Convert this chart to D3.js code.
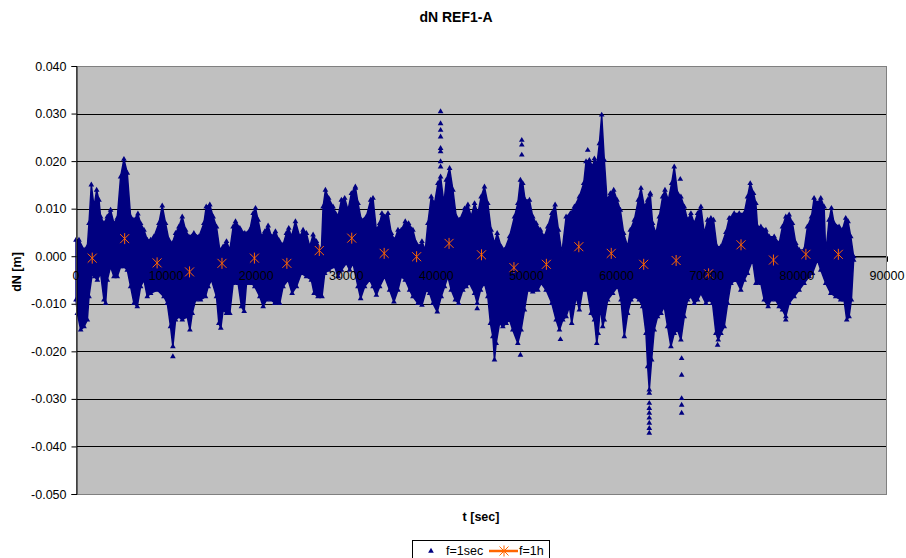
<!DOCTYPE html>
<html>
<head>
<meta charset="utf-8">
<script src="https://cdn.jsdelivr.net/npm/d3@7"></script>
<style>
  body { margin: 0; background: #fff; }
  svg { display: block; font-family: "Liberation Sans", Arial, sans-serif; }
</style>
</head>
<body>
<svg id="chart" width="906" height="558"></svg>
<script>
const WIDTH = 906;
const HEIGHT = 558;

// f=1h series (one value per hour, mid-hour)
const hourT = [1800, 5400, 9000, 12600, 16200, 19800, 23400, 27000, 30600, 34200, 37800, 41400,
  45000, 48600, 52200, 55800, 59400, 63000, 66600, 70200, 73800, 77400, 81000, 84600];
const hourDN = [-0.0004, 0.0037, -0.0014, -0.0033, -0.0015, -0.0004, -0.0015, 0.0012, 0.0038, 0.0006, -0.0001, 0.0027,
  0.0003, -0.0024, -0.0017, 0.0020, 0.0006, -0.0017, -0.0009, -0.0037, 0.0024, -0.0008, 0.0004, 0.0004];

// f=1sec cloud, read as its upper and lower edge [t, dN]
const upperEdge = [[0,0.0034],[330,0.0034],[890,0.0013],[1260,0.002],[1440,0.0069],[1700,0.015],[2000,0.0104],[2290,0.0139],
  [2550,0.0118],[2730,0.0083],[3100,0.0069],[3470,0.0083],[3840,0.0097],[4210,0.0069],[4580,0.008],[4950,0.0167],[5320,0.0204],
  [5690,0.0175],[6060,0.0083],[6430,0.0076],[6870,0.0089],[7170,0.0069],[7540,0.0055],[7910,0.0034],[8280,0.0034],[8650,0.0041],
  [9200,0.0069],[9570,0.0106],[9940,0.0069],[10310,0.0034],[10680,0.0027],[11050,0.0048],[11420,0.0062],[11790,0.0083],
  [12160,0.0055],[12530,0.0041],[13080,0.0048],[13640,0.0041],[14190,0.0069],[14450,0.0104],[14850,0.0108],[15220,0.0083],
  [15590,0.0062],[15960,0.0013],[16330,0.002],[16700,0.0031],[17070,0.0013],[17440,0.0062],[17700,0.0073],[18180,0.0059],
  [18730,0.0048],[19290,0.0055],[19660,0.009],[19920,0.0101],[20210,0.0076],[20580,0.0041],[20950,0.0052],[21320,0.0064],
  [21690,0.0041],[22130,0.0052],[22500,0.0034],[22980,0.0024],[23350,0.0048],[23610,0.0059],[23910,0.0041],[24350,0.0073],
  [24830,0.0041],[25200,0.0055],[25570,0.0048],[25940,0.002],[26310,0.0045],[26680,0.0031],[27230,0.0013],[27420,0.0104],
  [27680,0.0139],[28040,0.0122],[28520,0.0104],[28800,0.009],[29080,0.0083],[29450,0.0118],[29820,0.0122],[30190,0.0097],
  [30560,0.0132],[31000,0.0146],[31300,0.0111],[31660,0.0076],[32220,0.0083],[32700,0.0118],[32960,0.0122],[33330,0.0055],
  [33700,0.0069],[33950,0.009],[34250,0.0083],[34620,0.009],[34990,0.0048],[35360,0.0034],[35730,0.0055],[36100,0.0055],
  [36540,0.0073],[36910,0.0069],[37390,0.0055],[37760,0.0027],[38130,0.002],[38390,0.0031],[38760,0.0013],[39050,0.0069],
  [39420,0.0125],[39790,0.0111],[40160,0.0153],[40460,0.0167],[40830,0.0111],[41090,0.016],[41460,0.0185],[41830,0.0139],
  [42200,0.0083],[42570,0.0076],[43120,0.01],[43490,0.0108],[43860,0.0083],[44230,0.0111],[44600,0.009],[44960,0.0125],
  [45330,0.0146],[45700,0.0111],[46070,0.0055],[46440,0.0027],[46740,0.0048],[47180,0.002],[47550,0.0013],[48110,0.0041],
  [48660,0.0083],[49030,0.0111],[49320,0.016],[49580,0.0153],[49840,0.0118],[50320,0.0118],[50690,0.0083],[51060,0.0069],
  [51540,0.0055],[51980,0.0041],[52350,0.0062],[52800,0.009],[53170,0.0108],[53540,0.0055],[53910,0.0006],[54390,0.0083],
  [54870,0.009],[55310,0.0104],[55860,0.0125],[56340,0.0153],[56600,0.0199],[56970,0.0202],[57340,0.0188],[57530,0.0205],
  [57820,0.0195],[58080,0.0237],[58340,0.0297],[58630,0.0202],[58930,0.0118],[59300,0.0132],[59670,0.0139],[60040,0.0118],
  [60410,0.0097],[60780,0.0048],[61220,0.002],[61520,0.0055],[61960,0.0076],[62400,0.0118],[62700,0.0143],[63070,0.0104],
  [63440,0.0118],[63730,0.0129],[63990,0.0069],[64360,0.0048],[64730,0.0083],[65100,0.0125],[65360,0.0139],[65730,0.0118],
  [66100,0.0153],[66390,0.0188],[66760,0.0132],[67130,0.0125],[67500,0.0104],[67870,0.0076],[68240,0.009],[68610,0.0069],
  [68980,0.009],[69350,0.0104],[69720,0.0048],[70090,0.0076],[70460,0.008],[70750,0.0076],[71120,0.002],[71570,0.002],
  [72120,0.005],[72490,0.008],[73040,0.009],[73600,0.009],[74150,0.009],[74520,0.0125],[74820,0.0153],[75190,0.0132],
  [75450,0.0111],[75630,0.0062],[76000,0.0062],[76560,0.0055],[76930,0.0041],[77480,0.0041],[78030,0.0027],[78400,0.0062],
  [78770,0.0083],[79140,0.0087],[79510,0.0069],[79880,0.0027],[80250,0.0013],[80800,0.0013],[81170,0.0062],[81620,0.0083],
  [81910,0.0122],[82280,0.0111],[82650,0.0122],[83020,0.0104],[83200,0.0006],[83570,0.0076],[83830,0.0101],[84130,0.0069],
  [84680,0.0062],[85050,0.0055],[85420,0.008],[85680,0.0073],[85980,0.0041],[86300,-0.0001]];

const lowerEdge = [[0,-0.0092],[150,-0.012],[520,-0.0155],[890,-0.0148],[1260,-0.0134],[1440,-0.0085],[1810,-0.0036],
  [2070,-0.0043],[2370,-0.005],[2730,-0.0036],[3100,-0.0092],[3290,-0.0099],[3470,-0.005],[3840,-0.0022],[4210,-0.0043],
  [4580,-0.0043],[4950,-0.0022],[5320,-0.0022],[5690,-0.0029],[6060,-0.0064],[6430,-0.0099],[6800,-0.0106],[7170,-0.0064],
  [7540,-0.005],[7910,-0.0085],[8280,-0.0078],[9020,-0.0071],[9760,-0.0085],[10130,-0.0099],[10490,-0.0148],[10750,-0.019],
  [11050,-0.0134],[11420,-0.0127],[11790,-0.0134],[12340,-0.0127],[12640,-0.0155],[12900,-0.012],[13270,-0.0092],
  [13820,-0.0092],[14370,-0.0085],[14670,-0.0064],[15040,-0.005],[15590,-0.0085],[15850,-0.0141],[16070,-0.0151],
  [16330,-0.0113],[16700,-0.012],[17070,-0.012],[17440,-0.0057],[17990,-0.0057],[18360,-0.0106],[18660,-0.0116],
  [18920,-0.0057],[19470,-0.0057],[19840,-0.0064],[20400,-0.0085],[20770,-0.0106],[21130,-0.0092],[21690,-0.0092],
  [22060,-0.0099],[22610,-0.0099],[22980,-0.0064],[23540,-0.005],[23980,-0.0078],[24460,-0.0064],[25010,-0.0036],
  [25570,-0.0043],[26120,-0.005],[26420,-0.0078],[26860,-0.0085],[27300,-0.0085],[27600,-0.0036],[28040,-0.0029],
  [28710,-0.0022],[29080,-0.0043],[29450,-0.0029],[30000,-0.0015],[30370,-0.0029],[30740,-0.0015],[31290,-0.0064],
  [31590,-0.0089],[32030,-0.0064],[32590,-0.005],[32960,-0.0064],[33330,-0.0082],[33700,-0.0064],[34250,-0.0043],
  [34800,-0.0071],[35280,-0.0096],[35730,-0.0071],[36100,-0.0043],[36540,-0.005],[37020,-0.0071],[37390,-0.0085],
  [37940,-0.0099],[38390,-0.0103],[38870,-0.0071],[39240,-0.0078],[39610,-0.0099],[40090,-0.0117],[40530,-0.0085],
  [40900,-0.0064],[41270,-0.0043],[41640,-0.0071],[42090,-0.0092],[42450,-0.0099],[42930,-0.0071],[43300,-0.0064],
  [43670,-0.0057],[44230,-0.0078],[44520,-0.0099],[44890,-0.0071],[45330,-0.0057],[45700,-0.0085],[45990,-0.0141],
  [46260,-0.0169],[46440,-0.0218],[46630,-0.0183],[47000,-0.0141],[47370,-0.0148],[47740,-0.0141],[48110,-0.0134],
  [48470,-0.0155],[49030,-0.0183],[49400,-0.0155],[49770,-0.0113],[50140,-0.0071],[50690,-0.0075],[51250,-0.0071],
  [51620,-0.0057],[52170,-0.0071],[52800,-0.0099],[53280,-0.0134],[53650,-0.0155],[54020,-0.0134],[54390,-0.0127],
  [54760,-0.0106],[55010,-0.0141],[55500,-0.0085],[55860,-0.0113],[56230,-0.0071],[56720,-0.0071],[57160,-0.012],
  [57530,-0.0134],[57790,-0.0183],[57950,-0.0162],[58190,-0.0106],[58450,-0.0148],[58630,-0.0134],[59000,-0.0092],
  [59560,-0.0078],[60110,-0.0064],[60480,-0.0092],[60850,-0.0169],[61220,-0.012],[61590,-0.0092],[61960,-0.0085],
  [62510,-0.0092],[62880,-0.0106],[63250,-0.0162],[63440,-0.0232],[63620,-0.0281],[63880,-0.0218],[64170,-0.0155],
  [64540,-0.0127],[64920,-0.012],[65280,-0.0106],[65650,-0.0148],[66020,-0.019],[66390,-0.0162],[66760,-0.0155],
  [67130,-0.0176],[67500,-0.0127],[67870,-0.0092],[68240,-0.0085],[68610,-0.0099],[68980,-0.0092],[69350,-0.0078],
  [69900,-0.0099],[70270,-0.0092],[70640,-0.0099],[71010,-0.0162],[71270,-0.0176],[71570,-0.0162],[71940,-0.0148],
  [72310,-0.0099],[72680,-0.0057],[73230,-0.005],[73780,-0.0071],[74150,-0.005],[74520,-0.0036],[75080,-0.0008],
  [75450,-0.0057],[76000,-0.0057],[76370,-0.0092],[76810,-0.0106],[77110,-0.0092],[77660,-0.0092],[78030,-0.0106],
  [78400,-0.0113],[78770,-0.0127],[79140,-0.0099],[79690,-0.0085],[80250,-0.0071],[80800,-0.0057],[81360,-0.0043],
  [81730,-0.0036],[82280,-0.0008],[82650,-0.0029],[83200,-0.0057],[83760,-0.0078],[84310,-0.0085],[84860,-0.0092],
  [85230,-0.0092],[85530,-0.0134],[85790,-0.0127],[86050,-0.0092],[86300,-0.0008]];

// isolated f=1sec points outside the cloud
const outliers = [[10750,-0.0211],[31000,0.0143],
  [40460,0.0304],[40460,0.0279],[40460,0.0265],[40460,0.0251],[40460,0.0227],[40460,0.022],[40460,0.0199],[40460,0.0188],
  [49470,0.0244],[49470,0.0234],[49470,0.0213],[56790,0.0223],[49320,-0.0208],[44520,-0.011],[53760,-0.0175],
  [63620,-0.0288],[63620,-0.0309],[63620,-0.032],[63620,-0.033],[63620,-0.034],[63620,-0.0351],[63620,-0.0362],[63620,-0.0372],
  [67210,-0.0215],[67210,-0.025],[67210,-0.0299],[67210,-0.0313],[67210,-0.033],
  [71200,-0.0187],[78770,-0.0134],[63730,0.0132],[67060,0.0162]];

const xTicks = [0, 10000, 20000, 30000, 40000, 50000, 60000, 70000, 80000, 90000];
const yTicks = [-0.05, -0.04, -0.03, -0.02, -0.01, 0, 0.01, 0.02, 0.03, 0.04];

const NAVY = "#000080";
const ORANGE = "#FF6600";
const PLOT = { left: 76, right: 887, top: 66, bottom: 494 };

const svg = d3.select("#chart");

const x = d3.scaleLinear().domain([0, 90000]).range([PLOT.left, PLOT.right]);
const y = d3.scaleLinear().domain([-0.05, 0.04]).range([PLOT.bottom, PLOT.top]);
const line = d3.line().x(d => x(d[0])).y(d => y(d[1]));

// plot background
svg.append("rect")
  .attr("x", PLOT.left).attr("y", PLOT.top)
  .attr("width", PLOT.right - PLOT.left).attr("height", PLOT.bottom - PLOT.top)
  .attr("fill", "#C0C0C0");

// gridlines
svg.append("g")
  .selectAll("line")
  .data(yTicks)
  .enter()
  .append("line")
  .attr("x1", PLOT.left).attr("x2", PLOT.right)
  .attr("y1", d => Math.round(y(d)) + 0.5).attr("y2", d => Math.round(y(d)) + 0.5)
  .attr("stroke", "#000").attr("stroke-width", 1);

// x axis crossing at dN = 0
const xAxis = svg.append("g")
  .attr("transform", "translate(0," + (Math.round(y(0)) + 0.5) + ")")
  .call(d3.axisBottom(x).tickValues(xTicks).tickSize(5).tickFormat(d => d));
xAxis.select(".domain").attr("stroke", "#000");
xAxis.selectAll(".tick line").attr("stroke", "#000");
xAxis.selectAll("text").remove();

// f=1h line under the cloud
const hourPts = hourT.map((t, i) => [t, hourDN[i]]);
svg.append("path")
  .datum(hourPts)
  .attr("fill", "none")
  .attr("stroke", ORANGE)
  .attr("stroke-width", 2.5)
  .attr("d", line);

// f=1sec cloud
const cloudPts = upperEdge.concat(lowerEdge.slice().reverse());
svg.append("path")
  .datum(cloudPts)
  .attr("fill", NAVY)
  .attr("stroke", NAVY)
  .attr("stroke-width", 1.5)
  .attr("stroke-linejoin", "round")
  .attr("d", d => line(d) + "Z");

const tri = d3.symbol().type(d3.symbolTriangle).size(14);
svg.append("g")
  .selectAll("path")
  .data(upperEdge.concat(lowerEdge, outliers))
  .enter()
  .append("path")
  .attr("transform", d => "translate(" + x(d[0]) + "," + y(d[1]) + ")")
  .attr("d", tri)
  .attr("fill", NAVY);

// f=1h asterisk markers
const star = "M-4.5,-4.5L4.5,4.5M-4.5,4.5L4.5,-4.5M0,-5.5L0,5.5";
svg.append("g")
  .selectAll("path")
  .data(hourPts)
  .enter()
  .append("path")
  .attr("transform", d => "translate(" + x(d[0]) + "," + y(d[1]) + ")")
  .attr("d", star)
  .attr("fill", "none")
  .attr("stroke", ORANGE)
  .attr("stroke-width", 1);

// plot border
svg.append("rect")
  .attr("x", PLOT.left + 0.5).attr("y", PLOT.top + 0.5)
  .attr("width", PLOT.right - PLOT.left - 1).attr("height", PLOT.bottom - PLOT.top)
  .attr("fill", "none")
  .attr("stroke", "#808080");

// y axis
const yAxis = svg.append("g")
  .attr("transform", "translate(" + (PLOT.left + 0.5) + ",0)")
  .call(d3.axisLeft(y).tickValues(yTicks).tickSize(5).tickPadding(5).tickFormat(d => d.toFixed(3)));
yAxis.select(".domain").attr("stroke", "#000");
yAxis.selectAll(".tick line").attr("stroke", "#000");
yAxis.selectAll("text").attr("font-size", "12.5px").attr("fill", "#000").attr("font-family", null);

// x tick labels above the data
svg.append("g")
  .selectAll("text")
  .data(xTicks)
  .enter()
  .append("text")
  .attr("x", d => x(d))
  .attr("y", Math.round(y(0)) + 24)
  .attr("text-anchor", "middle")
  .attr("font-size", "12.5px")
  .text(d => d);

// titles
svg.append("text")
  .attr("x", 456).attr("y", 22)
  .attr("text-anchor", "middle")
  .attr("font-size", "14px").attr("font-weight", "bold")
  .text("dN REF1-A");

svg.append("text")
  .attr("x", 481).attr("y", 521)
  .attr("text-anchor", "middle")
  .attr("font-size", "12.5px").attr("font-weight", "bold")
  .text("t [sec]");

svg.append("text")
  .attr("transform", "translate(21,272) rotate(-90)")
  .attr("text-anchor", "middle")
  .attr("font-size", "12.5px").attr("font-weight", "bold")
  .text("dN [m]");

// legend
const legend = svg.append("g");
legend.append("rect")
  .attr("x", 412.5).attr("y", 540.5)
  .attr("width", 137).attr("height", 26)
  .attr("fill", "#fff").attr("stroke", "#000");
legend.append("path")
  .attr("transform", "translate(431,551)")
  .attr("d", tri)
  .attr("fill", NAVY);
legend.append("text")
  .attr("x", 446).attr("y", 555)
  .attr("font-size", "12.5px")
  .text("f=1sec");
legend.append("line")
  .attr("x1", 489).attr("x2", 518).attr("y1", 551).attr("y2", 551)
  .attr("stroke", ORANGE).attr("stroke-width", 2.5);
legend.append("path")
  .attr("transform", "translate(504,551)")
  .attr("d", star)
  .attr("fill", "none").attr("stroke", ORANGE);
legend.append("text")
  .attr("x", 519).attr("y", 555)
  .attr("font-size", "12.5px")
  .text("f=1h");
</script>
</body>
</html>
